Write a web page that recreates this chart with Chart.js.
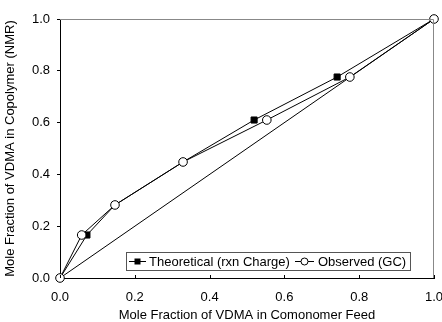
<!DOCTYPE html>
<html lang="en">
<head>
  <meta charset="UTF-8">
  <title>Mole fraction of VDMA</title>
  <script src="https://cdn.jsdelivr.net/npm/chart.js"></script>
  <style>
    body { margin: 0; background: #fff; }
    #wrap { width: 442px; height: 322px; }
  </style>
</head>
<body>
  <div id="wrap"><canvas id="myChart" width="442" height="322"></canvas></div>
  <script>
    // Data
    const theoFeed = [0, 0.072, 0.147, 0.329, 0.519, 0.741, 1.0];
    const theoPolymer = [0, 0.166, 0.282, 0.448, 0.610, 0.776, 1.0];
    const obsFeed = [0, 0.058, 0.147, 0.329, 0.553, 0.775, 1.0];
    const obsPolymer = [0, 0.166, 0.282, 0.448, 0.610, 0.776, 1.0];
    const diagX = [0, 1];
    const diagY = [0, 1];
    const tickVals = [0, 0.2, 0.4, 0.6, 0.8, 1.0];
    const legendLabels = ['Theoretical (rxn Charge)', 'Observed (GC)'];

    const toPoints = (xs, ys) => xs.map((x, i) => ({ x: x, y: ys[i] }));
    const FONT = 'Arial, "Liberation Sans", sans-serif';

    // grey top/right frame, inward x ticks, legend box
    const extras = {
      id: 'extras',
      afterDraw(chart) {
        const c = chart.ctx;
        const a = chart.chartArea;
        const xs = chart.scales.x;
        c.save();
        c.strokeStyle = '#888';
        c.lineWidth = 1;
        c.beginPath();
        c.moveTo(a.left, a.top + 0.5);
        c.lineTo(a.right - 0.5, a.top + 0.5);
        c.lineTo(a.right - 0.5, a.bottom);
        c.stroke();

        c.strokeStyle = '#000';
        c.beginPath();
        tickVals.forEach(v => {
          const px = Math.round(xs.getPixelForValue(v)) + 0.5;
          c.moveTo(px, a.bottom);
          c.lineTo(px, a.bottom - 3);
        });
        c.stroke();

        // legend
        const bx = 126, by = 252, bw = 284, bh = 18;
        c.fillStyle = '#fff';
        c.fillRect(bx, by, bw, bh);
        c.strokeStyle = '#555';
        c.strokeRect(bx + 0.5, by + 0.5, bw, bh);
        const cy = by + bh / 2 + 0.5;
        c.strokeStyle = '#000';
        c.beginPath();
        c.moveTo(129, cy); c.lineTo(146, cy);
        c.moveTo(295, cy); c.lineTo(314, cy);
        c.stroke();
        c.fillStyle = '#000';
        c.fillRect(134.5, cy - 3, 6, 6);
        c.fillStyle = '#fff';
        c.beginPath();
        c.arc(304.5, cy, 3.5, 0, Math.PI * 2);
        c.fill(); c.stroke();
        c.fillStyle = '#000';
        c.font = '13px ' + FONT;
        c.textBaseline = 'middle';
        c.fillText(legendLabels[0], 149, cy + 1);
        c.fillText(legendLabels[1], 318, cy + 1);
        c.restore();
      }
    };

    const ctx = document.getElementById('myChart').getContext('2d');
    new Chart(ctx, {
      type: 'scatter',
      data: {
        datasets: [
          {
            label: 'y = x',
            data: toPoints(diagX, diagY),
            showLine: true,
            borderColor: '#000',
            borderWidth: 1,
            pointRadius: 0,
            order: 2
          },
          {
            label: legendLabels[0],
            data: toPoints(theoFeed, theoPolymer),
            showLine: true,
            borderColor: '#000',
            borderWidth: 1,
            pointStyle: 'rect',
            pointRadius: 4.3,
            pointBackgroundColor: '#000',
            pointBorderColor: '#000',
            order: 1
          },
          {
            label: legendLabels[1],
            data: toPoints(obsFeed, obsPolymer),
            showLine: true,
            borderColor: '#000',
            borderWidth: 1,
            pointStyle: 'circle',
            pointRadius: 4.3,
            pointBackgroundColor: '#fff',
            pointBorderColor: '#000',
            pointBorderWidth: 1,
            order: 0
          }
        ]
      },
      options: {
        responsive: false,
        animation: false,
        clip: false,
        layout: { padding: { top: 19, right: 8 } },
        plugins: {
          legend: { display: false },
          tooltip: { enabled: false }
        },
        scales: {
          x: {
            type: 'linear',
            min: 0, max: 1,
            afterFit(s) { s.height = 44; s.paddingLeft = 0; s.paddingRight = 0; },
            afterBuildTicks(s) { s.ticks = tickVals.map(v => ({ value: v })); },
            border: { color: '#000' },
            grid: { drawOnChartArea: false, drawTicks: false },
            ticks: {
              padding: 12, color: '#000',
              font: { size: 13, family: FONT },
              callback: v => v.toFixed(1)
            },
            title: {
              display: true,
              text: 'Mole Fraction of VDMA in Comonomer Feed',
              color: '#000',
              font: { size: 13, family: FONT },
              padding: { top: 0, bottom: -1 }
            }
          },
          y: {
            type: 'linear',
            min: 0, max: 1,
            afterFit(s) { s.width = 60; },
            afterBuildTicks(s) { s.ticks = tickVals.map(v => ({ value: v })); },
            border: { color: '#000' },
            grid: { drawOnChartArea: false, tickLength: 3, color: '#000' },
            ticks: {
              padding: 7, color: '#000',
              font: { size: 13, family: FONT },
              callback: v => v.toFixed(1)
            },
            title: {
              display: true,
              text: 'Mole Fraction of VDMA in Copolymer (NMR)',
              color: '#000',
              font: { size: 13, family: FONT },
              padding: { top: 3, bottom: 0 }
            }
          }
        }
      },
      plugins: [extras]
    });
  </script>
</body>
</html>
